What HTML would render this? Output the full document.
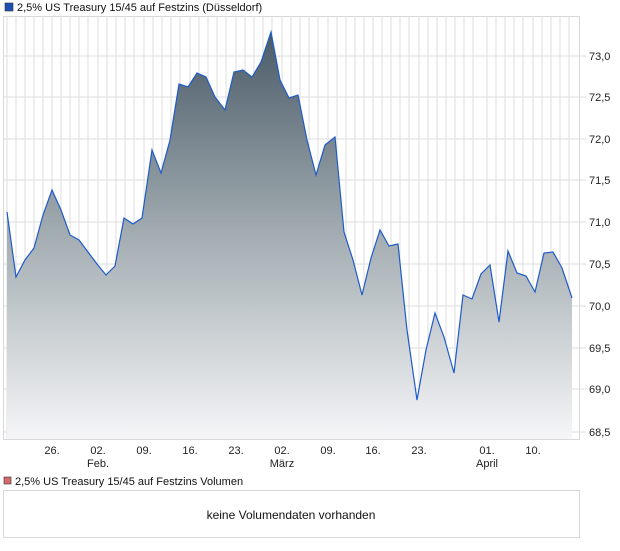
<!DOCTYPE html>
<html><head><meta charset="utf-8"><style>
body{margin:0;background:#fff;width:620px;height:546px;overflow:hidden;font-family:"Liberation Sans",sans-serif;}
</style></head><body>
<svg width="620" height="546" xmlns="http://www.w3.org/2000/svg" font-family="Liberation Sans, sans-serif">
<defs>
<linearGradient id="g" x1="0" y1="32" x2="0" y2="440" gradientUnits="userSpaceOnUse">
<stop offset="0" stop-color="#4a5b68"/>
<stop offset="0.5" stop-color="#a3adb2"/>
<stop offset="1" stop-color="#f6f6f8"/>
</linearGradient>
</defs>
<rect x="5" y="3" width="8" height="8" fill="#1f4fb5" stroke="#333" stroke-width="0.6"/>
<text x="17" y="11" font-size="11" fill="#111">2,5% US Treasury 15/45 auf Festzins (Düsseldorf)</text>
<g stroke="#dddddd" stroke-width="1">
<rect x="3.5" y="16.5" width="576" height="423" fill="none" stroke="#d8d8d8"/>
<g id="v"></g>
</g>
<g stroke="#dcdcdc">
<script>/* placeholder */</script>
</g>
<g stroke="#dedede" stroke-width="1" shape-rendering="crispEdges">
<line x1="7" y1="17" x2="7" y2="440"/><line x1="16" y1="17" x2="16" y2="440"/><line x1="25" y1="17" x2="25" y2="440"/><line x1="34" y1="17" x2="34" y2="440"/><line x1="43" y1="17" x2="43" y2="440"/><line x1="52" y1="17" x2="52" y2="440"/><line x1="61" y1="17" x2="61" y2="440"/><line x1="70" y1="17" x2="70" y2="440"/><line x1="79" y1="17" x2="79" y2="440"/><line x1="88" y1="17" x2="88" y2="440"/><line x1="98" y1="17" x2="98" y2="440"/><line x1="107" y1="17" x2="107" y2="440"/><line x1="116" y1="17" x2="116" y2="440"/><line x1="125" y1="17" x2="125" y2="440"/><line x1="134" y1="17" x2="134" y2="440"/><line x1="144" y1="17" x2="144" y2="440"/><line x1="153" y1="17" x2="153" y2="440"/><line x1="162" y1="17" x2="162" y2="440"/><line x1="171" y1="17" x2="171" y2="440"/><line x1="180" y1="17" x2="180" y2="440"/><line x1="190" y1="17" x2="190" y2="440"/><line x1="199" y1="17" x2="199" y2="440"/><line x1="208" y1="17" x2="208" y2="440"/><line x1="217" y1="17" x2="217" y2="440"/><line x1="226" y1="17" x2="226" y2="440"/><line x1="236" y1="17" x2="236" y2="440"/><line x1="245" y1="17" x2="245" y2="440"/><line x1="254" y1="17" x2="254" y2="440"/><line x1="263" y1="17" x2="263" y2="440"/><line x1="272" y1="17" x2="272" y2="440"/><line x1="282" y1="17" x2="282" y2="440"/><line x1="291" y1="17" x2="291" y2="440"/><line x1="300" y1="17" x2="300" y2="440"/><line x1="309" y1="17" x2="309" y2="440"/><line x1="318" y1="17" x2="318" y2="440"/><line x1="328" y1="17" x2="328" y2="440"/><line x1="337" y1="17" x2="337" y2="440"/><line x1="346" y1="17" x2="346" y2="440"/><line x1="355" y1="17" x2="355" y2="440"/><line x1="364" y1="17" x2="364" y2="440"/><line x1="373" y1="17" x2="373" y2="440"/><line x1="382" y1="17" x2="382" y2="440"/><line x1="391" y1="17" x2="391" y2="440"/><line x1="400" y1="17" x2="400" y2="440"/><line x1="409" y1="17" x2="409" y2="440"/><line x1="419" y1="17" x2="419" y2="440"/><line x1="428" y1="17" x2="428" y2="440"/><line x1="437" y1="17" x2="437" y2="440"/><line x1="446" y1="17" x2="446" y2="440"/><line x1="455" y1="17" x2="455" y2="440"/><line x1="464" y1="17" x2="464" y2="440"/><line x1="473" y1="17" x2="473" y2="440"/><line x1="487" y1="17" x2="487" y2="440"/><line x1="496" y1="17" x2="496" y2="440"/><line x1="505" y1="17" x2="505" y2="440"/><line x1="514" y1="17" x2="514" y2="440"/><line x1="523" y1="17" x2="523" y2="440"/><line x1="533" y1="17" x2="533" y2="440"/><line x1="542" y1="17" x2="542" y2="440"/><line x1="551" y1="17" x2="551" y2="440"/><line x1="560" y1="17" x2="560" y2="440"/><line x1="569" y1="17" x2="569" y2="440"/>
<line x1="4" y1="56" x2="586" y2="56"/><line x1="4" y1="97" x2="586" y2="97"/><line x1="4" y1="139" x2="586" y2="139"/><line x1="4" y1="180" x2="586" y2="180"/><line x1="4" y1="222" x2="586" y2="222"/><line x1="4" y1="264" x2="586" y2="264"/><line x1="4" y1="306" x2="586" y2="306"/><line x1="4" y1="348" x2="586" y2="348"/><line x1="4" y1="389" x2="586" y2="389"/><line x1="4" y1="432" x2="586" y2="432"/>
</g>
<path d="M7,212 L16,277 L25,260 L34,248 L43,215 L52,190 L61,210 L70,235 L79,240 L88,252 L97,264 L106,275 L115,266 L124,218 L133,224 L142,218 L152,150 L161,173 L170,140 L179,84 L188,87 L197,73 L206,77 L215,97 L225,110 L234,72 L243,70 L252,77 L261,62 L271,32 L280,80 L289,98 L298,95 L307,140 L316,175 L325,145 L335,137 L344,232 L353,260 L362,295 L371,258 L380,230 L389,246 L398,244 L407,330 L417,400 L426,350 L435,313 L444,337 L454,373 L463,295 L472,299 L481,274 L490,265 L499,322 L508,251 L517,273 L526,276 L535,292 L544,253 L553,252 L562,268 L572,298 L572,439 L7,439 Z" fill="url(#g)"/>
<path d="M7,212 L16,277 L25,260 L34,248 L43,215 L52,190 L61,210 L70,235 L79,240 L88,252 L97,264 L106,275 L115,266 L124,218 L133,224 L142,218 L152,150 L161,173 L170,140 L179,84 L188,87 L197,73 L206,77 L215,97 L225,110 L234,72 L243,70 L252,77 L261,62 L271,32 L280,80 L289,98 L298,95 L307,140 L316,175 L325,145 L335,137 L344,232 L353,260 L362,295 L371,258 L380,230 L389,246 L398,244 L407,330 L417,400 L426,350 L435,313 L444,337 L454,373 L463,295 L472,299 L481,274 L490,265 L499,322 L508,251 L517,273 L526,276 L535,292 L544,253 L553,252 L562,268 L572,298" fill="none" stroke="#1f5bc8" stroke-width="1.2"/>
<g font-size="11" fill="#222">
<text x="589" y="60">73,0</text><text x="589" y="101">72,5</text><text x="589" y="143">72,0</text><text x="589" y="184">71,5</text><text x="589" y="226">71,0</text><text x="589" y="268">70,5</text><text x="589" y="310">70,0</text><text x="589" y="352">69,5</text><text x="589" y="393">69,0</text><text x="589" y="436">68,5</text>
</g>
<g font-size="11" fill="#222" text-anchor="middle">
<text x="52" y="454">26.</text><text x="98" y="454">02.</text><text x="98" y="467">Feb.</text><text x="144" y="454">09.</text><text x="190" y="454">16.</text><text x="236" y="454">23.</text><text x="282" y="454">02.</text><text x="282" y="467">März</text><text x="328" y="454">09.</text><text x="373" y="454">16.</text><text x="419" y="454">23.</text><text x="487" y="454">01.</text><text x="487" y="467">April</text><text x="533" y="454">10.</text>
</g>
<rect x="4" y="477" width="7" height="7" fill="#d46a6a" stroke="#333" stroke-width="0.6"/>
<text x="15" y="485" font-size="11" fill="#111">2,5% US Treasury 15/45 auf Festzins Volumen</text>
<rect x="3.5" y="490.5" width="576" height="47" fill="none" stroke="#d8d8d8"/>
<text x="291" y="519" font-size="12" fill="#111" text-anchor="middle">keine Volumendaten vorhanden</text>
</svg>
</body></html>
